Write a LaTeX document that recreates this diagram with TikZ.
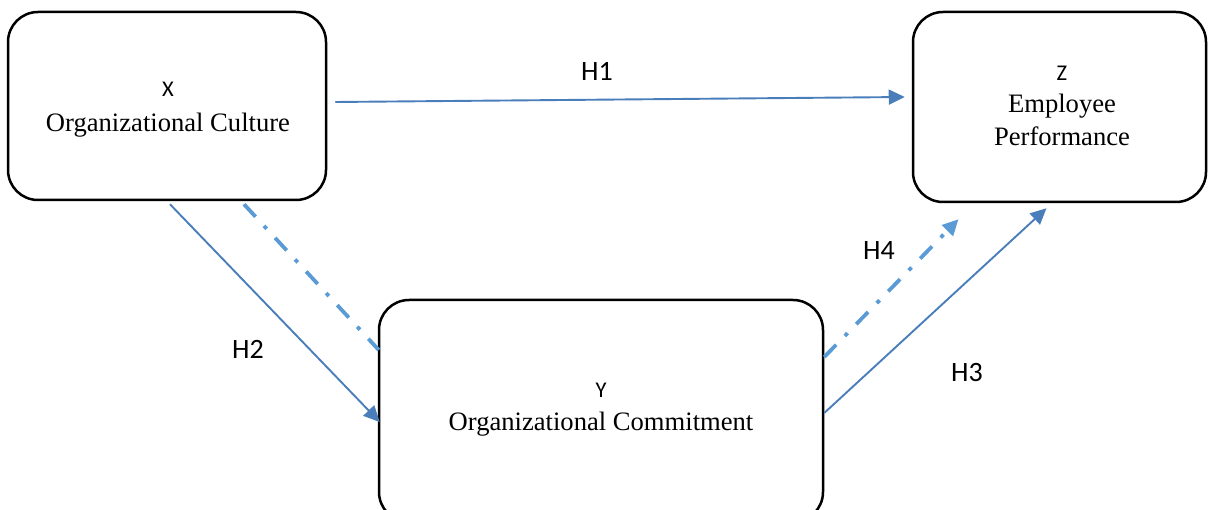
\documentclass[tikz,border=0pt]{standalone}
\usepackage{fontspec}
\setmainfont{Liberation Serif}
\newfontfamily\tagfont{Carlito}
\usetikzlibrary{arrows.meta}
\definecolor{linkblue}{HTML}{4A7EBB}
\definecolor{medblue}{HTML}{5B9BD5}
\tikzset{
  x=1pt, y=-1pt,
  box/.style={draw=black, line width=2.5pt, rounded corners=30pt, inner sep=0pt},
  vartag/.style={font=\tagfont\fontsize{22.5}{26}\selectfont, anchor=base, inner sep=0pt},
  vartitle/.style={font=\fontsize{26.6}{32}\selectfont, anchor=base, inner sep=0pt},
  hyp/.style={font=\tagfont\fontsize{28}{33}\selectfont, inner sep=0pt},
  direct/.style={draw=linkblue, line width=1.9pt, -{Triangle[length=16pt,width=15pt]}},
  mediated/.style={draw=medblue, line width=3.8pt, dash pattern=on 17pt off 12.4pt on 4pt off 12.4pt},
  mediatedarrow/.style={mediated, -{Triangle[length=16pt,width=15pt]}}
}
\begin{document}
\begin{tikzpicture}
\useasboundingbox (0,0) rectangle (1208,510);

% construct boxes
\node[box, minimum width=318pt, minimum height=188pt] (X) at (167,106) {};
\node[box, minimum width=293pt, minimum height=190pt] (Z) at (1059.5,107) {};
\node[box, minimum width=444pt, minimum height=222pt] (Y) at (601,411) {};

% box captions
\node[vartag]   (Xtag)  at (168,97)  {X};
\node[vartitle] (Xname) at (168,132) {Organizational Culture};
\node[vartag]   (Ztag)  at (1062,81) {Z};
\node[vartitle] (Zname1) at (1062,113) {Employee};
\node[vartitle] (Zname2) at (1062,146) {Performance};
\node[vartag]   (Ytag)  at (601,398) {Y};
\node[vartitle] (Yname) at (601,431) {Organizational Commitment};

% hypotheses
\draw[direct] ([shift={(8,-4)}]X.east) -- ([shift={(-7,-10)}]Z.west);
\draw[direct] ([shift={(3,3)}]X.south) -- ([shift={(2,11)}]Y.west);
\draw[direct] ([shift={(0,2)}]Y.east) -- ([shift={(-13,5)}]Z.south);
\draw[mediated] ([shift={(77,3)}]X.south) -- ([shift={(1,-61)}]Y.west);
\draw[mediatedarrow] ([shift={(0,-54)}]Y.east) -- ([shift={(-101,16)}]Z.south);

% hypothesis labels
\node[hyp] (H1) at (597,71)  {H1};
\node[hyp] (H2) at (248,349) {H2};
\node[hyp] (H3) at (967,373) {H3};
\node[hyp] (H4) at (879,251) {H4};
\end{tikzpicture}
\end{document}
